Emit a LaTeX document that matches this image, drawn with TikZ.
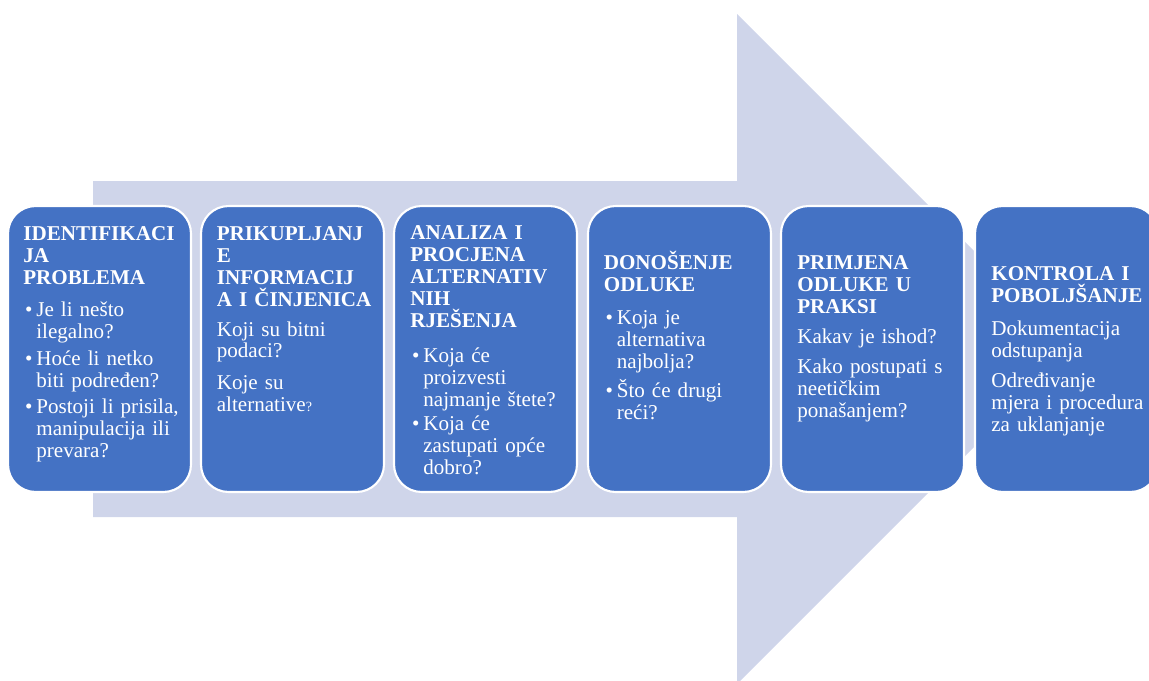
\documentclass[tikz,border=0pt]{standalone}
\usepackage{fontspec}
\setmainfont{Liberation Serif}
\usepackage{tikz}
\definecolor{stepblue}{HTML}{4472C4}
\definecolor{arrowgrey}{HTML}{CFD5EA}
\newcommand{\bul}{\hspace*{1pt}\makebox[6.4pt][l]{•}}
\newcommand{\ind}{\hspace*{7.4pt}}

\begin{document}
\begin{tikzpicture}[x=0.02cm, y=-0.02cm,
    stepbox/.style={rectangle, draw=white, line width=1.2pt, fill=stepblue,
                    rounded corners=0.55cm, minimum width=3.66cm, minimum height=5.72cm},
    steptext/.style={anchor=north west, inner sep=0pt, text=white, text width=3.2cm,
                     align=left, font=\fontsize{12}{12.5}\selectfont},
    bigarrow/.style={fill=arrowgrey}
]
    \useasboundingbox (0,0) rectangle (1149,680);
    \clip (0,0) rectangle (1149,680);
    % background arrow
    \fill[bigarrow] (93,181) -- (737,181) -- (737,14) -- (1072,349) -- (737,684)
        -- (737,517) -- (93,517) -- cycle;
    % step boxes
    \node[stepbox] (ident) at (99.5,349) {};
    \node[stepbox] (prikup) at (292.5,349) {};
    \node[stepbox] (analiza) at (485.5,349) {};
    \node[stepbox] (donos) at (679.5,349) {};
    \node[stepbox] (primj) at (872.5,349) {};
    \node[stepbox] (kontrola) at (1066.5,349) {};
    % step texts
    \node[steptext] (identtext) at (23,226) {{\bfseries IDENTIFIKACI\\JA\\PROBLEMA}\\[5.7pt]
        \bul Je li nešto\\\ind ilegalno?\\[2.8pt]
        \bul Hoće li netko\\\ind biti podređen?\\[2.8pt]
        \bul Postoji li prisila,\\\ind manipulacija ili\\\ind prevara?};
    \node[steptext] (prikuptext) at (216.5,226) {{\bfseries PRIKUPLJANJ\\E\\INFORMACIJ\\A I ČINJENICA}\\[4.5pt]
        Koji su bitni\\podaci?\\[5.7pt]
        Koje su\\alternative{\footnotesize ?}};
    \node[steptext] (analizatext) at (410,225) {{\bfseries ANALIZA I\\PROCJENA\\ALTERNATIV\\NIH\\RJEŠENJA}\\[7.4pt]
        \bul Koja će\\\ind proizvesti\\\ind najmanje štete?\\[1.7pt]
        \bul Koja će\\\ind zastupati opće\\\ind dobro?};
    \node[steptext] (donostext) at (603.5,251) {{\bfseries DONOŠENJE\\ODLUKE}\\[6.2pt]
        \bul Koja je\\\ind alternativa\\\ind najbolja?\\[2.8pt]
        \bul Što će drugi\\\ind reći?};
    \node[steptext] (primjtext) at (797,255) {{\bfseries PRIMJENA\\ODLUKE U\\PRAKSI}\\[4.5pt]
        Kakav je ishod?\\[5pt]
        Kako postupati s\\neetičkim\\ponašanjem?};
    \node[steptext] (kontrolatext) at (991,266) {{\bfseries KONTROLA I\\POBOLJŠANJE}\\[6.2pt]
        Dokumentacija\\odstupanja\\[5pt]
        Određivanje\\mjera i procedura\\za uklanjanje};
\end{tikzpicture}
\end{document}
